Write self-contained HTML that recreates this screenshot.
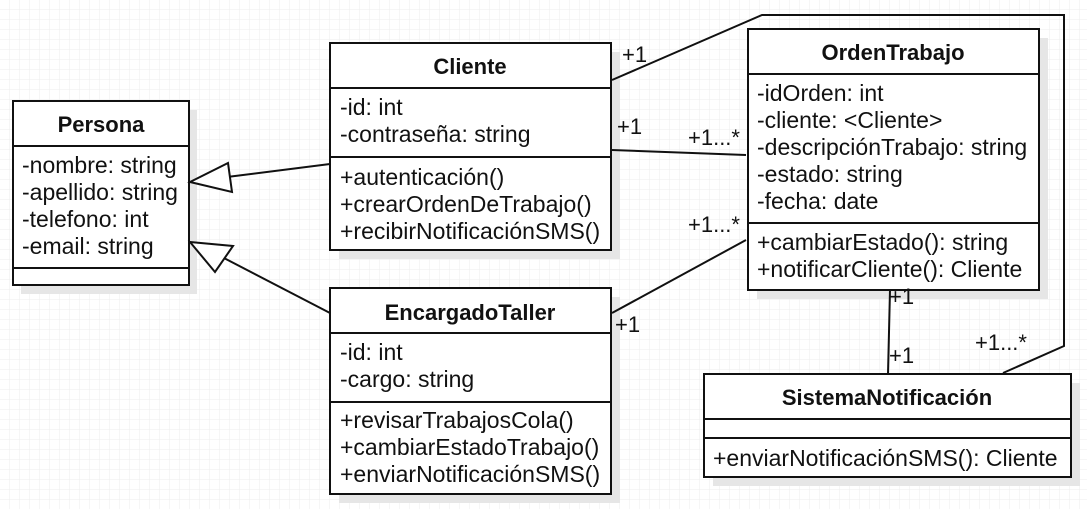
<!DOCTYPE html>
<html><head><meta charset="utf-8"><style>
html,body{margin:0;padding:0;background:#fff;}
svg{display:block;}
text{font-family:"Liberation Sans",sans-serif;font-size:23px;fill:#111;}
.t{font-weight:bold;text-anchor:middle;font-size:22px;}
.m{font-size:22px;}
</style></head><body>
<svg width="1087" height="509" viewBox="0 0 1087 509" xmlns="http://www.w3.org/2000/svg">
<defs>
<pattern id="g" width="10" height="10" patternUnits="userSpaceOnUse">
<path d="M10 0V10H0" fill="none" stroke="#eeeeee" stroke-width="1"/>
</pattern>
</defs>
<rect width="1087" height="509" fill="url(#g)"/>
<g fill="#e6e6e6">
<rect x="21" y="110" width="176" height="184"/>
<rect x="339" y="52" width="281" height="207"/>
<rect x="339" y="297" width="281" height="206"/>
<rect x="757" y="38" width="291" height="261"/>
<rect x="713" y="383" width="367" height="103"/>
</g>
<g fill="#fff" stroke="#111" stroke-width="2">
<rect x="13" y="101" width="176" height="184"/>
<rect x="330" y="43" width="281" height="207"/>
<rect x="330" y="288" width="281" height="206"/>
<rect x="748" y="29" width="291" height="261"/>
<rect x="704" y="374" width="367" height="103"/>
</g>
<g stroke="#111" stroke-width="2" fill="none">
<line x1="13" y1="146" x2="189" y2="146"/><line x1="13" y1="268" x2="189" y2="268"/>
<line x1="330" y1="88" x2="611" y2="88"/><line x1="330" y1="157" x2="611" y2="157"/>
<line x1="330" y1="333" x2="611" y2="333"/><line x1="330" y1="402" x2="611" y2="402"/>
<line x1="748" y1="74" x2="1039" y2="74"/><line x1="748" y1="223" x2="1039" y2="223"/>
<line x1="704" y1="419" x2="1071" y2="419"/><line x1="704" y1="438" x2="1071" y2="438"/>
<line x1="330" y1="164" x2="227" y2="177"/>
<polygon points="190,182 228,163 232,192" fill="#fff"/>
<line x1="330" y1="313" x2="222" y2="257"/>
<polygon points="190,242 233,246 215,272" fill="#fff"/>
<polyline points="612,80 762,15 1064,15 1064,346 1003,373"/>
<line x1="612" y1="150" x2="746" y2="155"/>
<line x1="612" y1="313" x2="746" y2="240"/>
<line x1="890" y1="290" x2="888" y2="374"/>
</g>
<text class="t" x="101" y="132">Persona</text>
<text x="22" y="173">-nombre: string</text>
<text x="22" y="200">-apellido: string</text>
<text x="22" y="227">-telefono: int</text>
<text x="22" y="254">-email: string</text>
<text class="t" x="470" y="74">Cliente</text>
<text x="340" y="115">-id: int</text>
<text x="340" y="142">-contraseña: string</text>
<text x="340" y="185">+autenticación()</text>
<text x="340" y="212">+crearOrdenDeTrabajo()</text>
<text x="340" y="239">+recibirNotificaciónSMS()</text>
<text class="t" x="470" y="320">EncargadoTaller</text>
<text x="340" y="360">-id: int</text>
<text x="340" y="387">-cargo: string</text>
<text x="340" y="428">+revisarTrabajosCola()</text>
<text x="340" y="455">+cambiarEstadoTrabajo()</text>
<text x="340" y="482">+enviarNotificaciónSMS()</text>
<text class="t" x="893" y="60">OrdenTrabajo</text>
<text x="757" y="101">-idOrden: int</text>
<text x="757" y="128">-cliente: &lt;Cliente&gt;</text>
<text x="757" y="155">-descripciónTrabajo: string</text>
<text x="757" y="182">-estado: string</text>
<text x="757" y="209">-fecha: date</text>
<text x="757" y="250">+cambiarEstado(): string</text>
<text x="757" y="277">+notificarCliente(): Cliente</text>
<text class="t" x="887" y="405">SistemaNotificación</text>
<text x="713" y="466">+enviarNotificaciónSMS(): Cliente</text>
<text class="m" x="622" y="62">+1</text>
<text class="m" x="617" y="134">+1</text>
<text class="m" x="688" y="145">+1...*</text>
<text class="m" x="688" y="232">+1...*</text>
<text class="m" x="615" y="332">+1</text>
<text class="m" x="889" y="304">+1</text>
<text class="m" x="889" y="363">+1</text>
<text class="m" x="975" y="350">+1...*</text>
</svg>
</body></html>
